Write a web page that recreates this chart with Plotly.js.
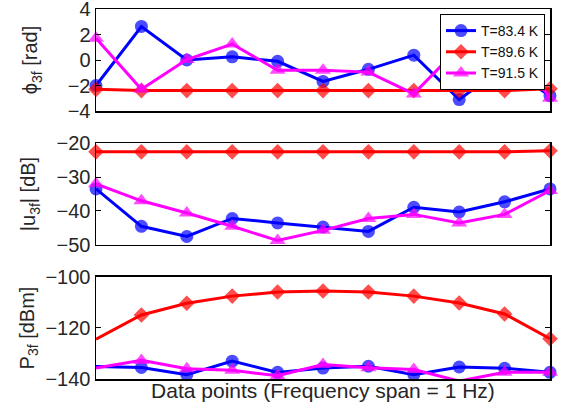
<!DOCTYPE html>
<html>
<head>
<meta charset="utf-8">
<script src="https://cdn.plot.ly/plotly-3.0.1.min.js"></script>
<style>html,body{margin:0;padding:0;background:#fff;}#chart{width:567px;height:411px;}</style>
</head>
<body>
<div id="chart"></div>
<script>
// Data point index (11 points across 1 Hz span)
const points = [1, 2, 3, 4, 5, 6, 7, 8, 9, 10, 11];
const seriesNames = ["T=83.4 K", "T=89.6 K", "T=91.5 K"];

// Phase phi_3f [rad]
const phi_83 = [-2.0, 2.63, 0.0, 0.25, -0.1, -1.68, -0.73, 0.38, -3.1, -0.5, -2.8];
const phi_89 = [-2.3, -2.4, -2.4, -2.4, -2.4, -2.4, -2.4, -2.4, -2.4, -2.4, -2.25];
const phi_91 = [1.7, -2.3, 0.04, 1.25, -0.8, -0.8, -0.95, -2.66, 1.0, 2.1, -3.0];

// |u_3f| [dB]
const u_83 = [-33.5, -44.5, -47.5, -42.2, -43.5, -44.7, -46.0, -38.9, -40.3, -37.3, -33.5];
const u_89 = [-22.6, -22.6, -22.6, -22.6, -22.6, -22.6, -22.6, -22.6, -22.6, -22.6, -22.3];
const u_91 = [-32.0, -37.0, -40.6, -44.5, -48.7, -45.7, -42.2, -41.0, -43.5, -41.0, -34.0];

// P_3f [dBm]
const p_83 = [-135.1, -135.5, -138.3, -133.0, -137.4, -135.7, -135.0, -138.3, -135.3, -135.8, -137.4];
const p_89 = [-124.4, -114.9, -110.3, -107.5, -105.9, -105.5, -105.9, -107.5, -110.2, -114.5, -124.2];
const p_91 = [-135.7, -132.7, -136.0, -136.6, -138.7, -134.3, -135.6, -136.3, -140.8, -137.4, -137.4];

const colors = ["#0000ff", "#ff0000", "#ff00ff"];
const symbols = ["circle", "diamond", "triangle-up"];
const baseSizes = [13, 12, 14];

const panels = [
  {data: [phi_83, phi_89, phi_91], xa: "x", ya: "y", range: [-4, 4], hideFirst: false},
  {data: [u_83, u_89, u_91], xa: "x2", ya: "y2", range: [-50, -20], hideFirst: false},
  {data: [p_83, p_89, p_91], xa: "x3", ya: "y3", range: [-140, -100], hideFirst: true}
];

const traces = [];
panels.forEach((pn, pi) => {
  pn.data.forEach((vals, si) => {
    // markers outside the axis limits are not drawn (as in the original)
    const sizes = vals.map((v, i) => {
      if (v < pn.range[0] || v > pn.range[1]) return 0;
      if (pn.hideFirst && i === 0) return 0;
      return baseSizes[si];
    });
    traces.push({
      x: points, y: vals, xaxis: pn.xa, yaxis: pn.ya,
      type: "scatter", mode: "lines+markers", name: seriesNames[si],
      showlegend: pi === 0, cliponaxis: false,
      line: {color: colors[si], width: 3},
      marker: {color: colors[si], symbol: symbols[si], size: sizes, line: {width: 0}}
    });
  });
});

const fam = "Liberation Sans, Arial, sans-serif";
const tickFont = {family: fam, size: 20, color: "#262626"};
const titleFont = {family: fam, size: 20, color: "#262626"};

function xax(anchor, title) {
  const a = {anchor: anchor, range: [1, 11], showgrid: false, zeroline: false,
    showline: true, mirror: true, linecolor: "#000", linewidth: 1.5,
    ticks: "", showticklabels: false, fixedrange: true};
  if (title) a.title = {text: title, font: {family: fam, size: 21, color: "#262626"}, standoff: 4};
  return a;
}
function yax(anchor, domain, range, dtick, title, standoff) {
  return {anchor: anchor, domain: domain, range: range, dtick: dtick, tick0: range[0],
    showgrid: false, zeroline: false, showline: true, mirror: "ticks",
    linecolor: "#000", linewidth: 1.5, ticks: "inside", ticklen: 5, tickcolor: "#000",
    ticklabeloverflow: "allow",
    tickfont: tickFont, title: {text: title, font: titleFont, standoff: standoff}};
}

const layout = {
  width: 567, height: 411,
  margin: {l: 96, r: 17, t: 9, b: 32},
  paper_bgcolor: "#fff", plot_bgcolor: "#fff",
  showlegend: true,
  legend: {x: 0.989, xanchor: "right", y: 0.9865, yanchor: "top",
    bgcolor: "#fff", bordercolor: "#000", borderwidth: 1,
    font: {family: fam, size: 14, color: "#111"},
    itemwidth: 30, tracegroupgap: 0},
  xaxis: xax("y", null),
  xaxis2: xax("y2", null),
  xaxis3: xax("y3", "Data points (Frequency span = 1 Hz)"),
  yaxis: yax("x", [0.7243, 1], [-4, 4], 2, "ϕ<sub>3f</sub> [rad]", 24),
  yaxis2: yax("x2", [0.3622, 0.6378], [-50, -20], 10, "|u<sub>3f</sub>| [dB]", 15),
  yaxis3: yax("x3", [0, 0.2757], [-140, -100], 20, "P<sub>3f</sub> [dBm]", 5)
};

Plotly.newPlot("chart", traces, layout, {displayModeBar: false, staticPlot: true});
</script>
</body>
</html>
